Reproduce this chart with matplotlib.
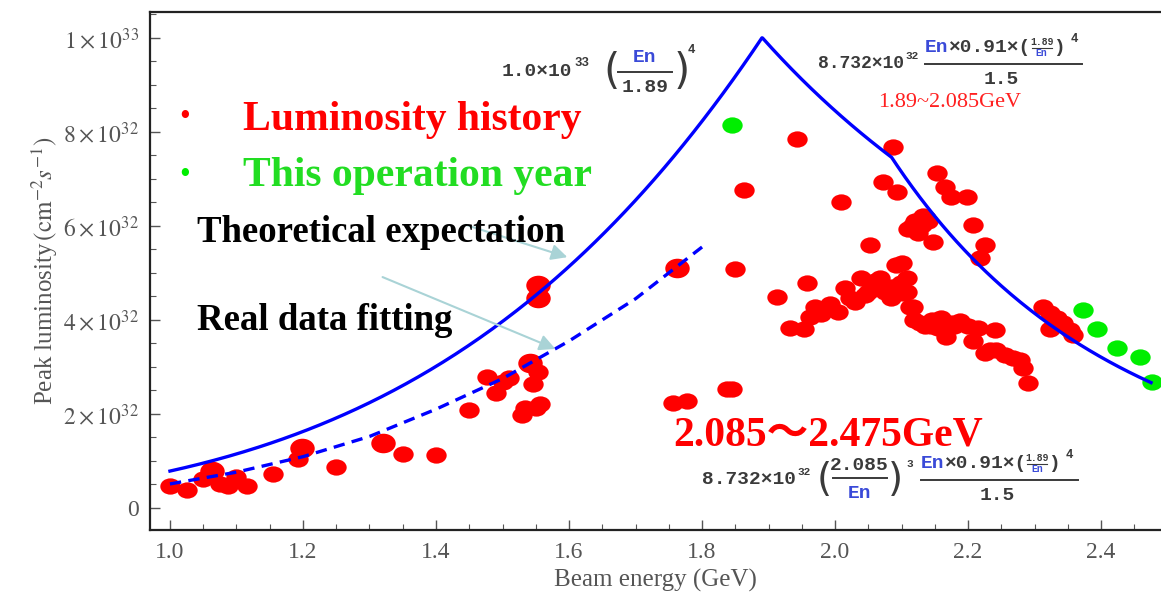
import numpy as np
import matplotlib
matplotlib.use('Agg')
import matplotlib.pyplot as plt
from matplotlib.path import Path
from matplotlib.transforms import Affine2D
from matplotlib.lines import Line2D
from matplotlib.ticker import MultipleLocator

# luminosity in units of 1e32 cm^-2 s^-1, beam energy in GeV
hist_E = [1.0, 1.026, 1.05, 1.075, 1.087, 1.10, 1.116, 1.155, 1.193, 1.25, 1.35, 1.40,
          1.45, 1.477, 1.49, 1.50, 1.51, 1.53, 1.534, 1.541, 1.546, 1.55, 1.553, 1.556,
          1.756, 1.777, 1.837, 1.845, 1.85, 1.863, 1.913, 1.943, 2.009, 2.053,
          1.932, 1.953, 1.958, 1.962, 1.970, 1.979, 1.992, 2.004, 2.015, 2.023, 2.030,
          2.039, 2.045, 2.050, 2.060, 2.068, 2.075, 2.084, 2.089, 2.100, 2.102, 2.113,
          2.064, 2.085, 2.099, 2.108, 2.108, 2.117, 2.118, 2.128, 2.135, 2.144, 2.146,
          2.155, 2.159, 2.167, 2.176, 2.179, 2.188, 2.200, 2.207, 2.215, 2.226, 2.233,
          2.242, 2.256, 2.267, 2.278, 2.282, 2.290, 2.240,
          2.087, 2.072, 2.093, 2.153, 2.165, 2.175, 2.198, 2.110, 2.120, 2.130, 2.137,
          2.147, 2.207, 2.226, 2.218, 2.100, 2.092, 2.115, 2.125, 2.140, 2.132,
          2.313, 2.323, 2.334, 2.343, 2.353, 2.358, 2.323]
hist_L = [0.47, 0.38, 0.62, 0.51, 0.47, 0.66, 0.47, 0.72, 1.04, 0.87, 1.15, 1.13,
          2.09, 2.79, 2.45, 2.68, 2.77, 1.98, 2.13, 3.09, 2.64, 2.13, 2.89, 2.21,
          2.23, 2.28, 2.53, 2.52, 5.09, 6.77, 4.49, 7.85, 6.51, 5.60,
          3.83, 3.81, 4.79, 4.06, 4.28, 4.13, 4.34, 4.17, 4.68, 4.47, 4.38,
          4.89, 4.53, 4.60, 4.83, 4.89, 4.60, 4.47, 4.55, 4.60, 4.57, 4.28,
          4.81, 4.70, 4.79, 4.89, 4.60, 4.28, 4.00, 3.94, 3.87, 3.87, 4.00,
          3.83, 4.04, 3.64, 3.94, 3.87, 3.98, 3.87, 3.55, 3.83, 3.30, 3.36,
          3.36, 3.26, 3.19, 3.15, 2.98, 2.66, 3.78,
          7.68, 6.94, 6.72, 7.13, 6.83, 6.62, 6.62, 5.94, 6.11, 6.02, 6.17,
          5.66, 6.02, 5.60, 5.32, 5.21, 5.17, 6.00, 5.85, 6.10, 6.22,
          4.28, 4.15, 4.04, 3.94, 3.79, 3.68, 3.81]
big_E = [1.063, 1.198, 1.32, 1.553, 1.553, 1.541, 1.762]
big_L = [0.79, 1.28, 1.38, 4.74, 4.47, 3.09, 5.11]
year_E = [1.845, 2.373, 2.394, 2.424, 2.459, 2.477]
year_L = [8.15, 4.21, 3.81, 3.40, 3.21, 2.68]

# dashed fit curve read along its length
fit_E = [1.0, 1.1, 1.2, 1.3, 1.4, 1.5, 1.6, 1.7, 1.8]
fit_L = [0.51, 0.76, 1.09, 1.52, 2.10, 2.75, 3.55, 4.45, 5.55]

# theoretical expectation (in units of 1e32)
L0, E0, E1, E_max = 10.0, 1.89, 2.085, 2.475

y_ticks = [0, 2, 4, 6, 8, 10]
y_labels = ['0', r'$2\times10^{32}$', r'$4\times10^{32}$', r'$6\times10^{32}$',
            r'$8\times10^{32}$', r'$1\times10^{33}$']
x_ticks = [1.0, 1.2, 1.4, 1.6, 1.8, 2.0, 2.2, 2.4]

W, H = 1161, 595
plt.rcParams['mathtext.fontset'] = 'stix'
plt.rcParams['font.family'] = ['Liberation Serif', 'DejaVu Serif']
GREY = '#555555'
FGREY = '#3a3a3a'
EN_BLUE = '#3a4ad8'
MONO = 'Liberation Mono'
FS = 14


def theory(E):
    E = np.asarray(E)
    rise = L0 * (E / E0) ** 4
    mid = 8.732 * E * 0.91 * (E0 / E) ** 4 / 1.5
    tail = 8.732 * (E1 / E) ** 3 * E * 0.91 * (E0 / E) ** 4 / 1.5
    return np.where(E <= E0, rise, np.where(E <= E1, mid, tail))


def px(x, y):
    return x / W, 1 - y / H


def ftext(x, y, s, size=FS, color=FGREY, family=MONO, weight='bold', ha='left'):
    t = fig.text(*px(x, y), s, fontsize=size, color=color, family=family,
                 weight=weight, ha=ha, va='center')
    return x + t.get_window_extent(renderer).width


def fline(x1, x2, y, lw=1.4):
    a, b = px(x1, y)
    c, _ = px(x2, y)
    fig.add_artist(Line2D([a, c], [b, b], transform=fig.transFigure, color=FGREY, lw=lw))


def paren(x, y, s, size=30):
    return ftext(x, y, s, size=size, weight='normal', family='DejaVu Sans')


def numerator(x, y):
    # En x 0.91 x (1.89/En)^4 written on one line
    x = ftext(x, y, 'En', color=EN_BLUE)
    x = ftext(x, y, '\u00d70.91\u00d7(')
    ftext(x + 11, y - 6, '1.89', size=7, ha='center')
    fline(x + 1, x + 21, y, lw=0.8)
    ftext(x + 11, y + 5, 'En', size=7, color=EN_BLUE, ha='center')
    x = ftext(x + 22, y, ')')
    return ftext(x + 6, y - 9, '4', size=9)


fig = plt.figure(figsize=(W / 100, H / 100), dpi=100)
renderer = fig.canvas.get_renderer()
ax = fig.add_axes([150 / W, 65 / H, 1 - 150 / W, 518 / H])

Et = np.linspace(1.0, E_max, 400)
Et = np.union1d(Et, [E0, E1])
ax.plot(Et, theory(Et), color='#0000ff', lw=2.4, zorder=3)
ax.plot(fit_E, fit_L, color='#0000ff', lw=2.4, ls=(0, (3.4, 2.2)), zorder=3)

oval = Path.unit_circle().transformed(Affine2D().scale(1.0, 0.8))
ax.scatter(hist_E, hist_L, marker=oval, s=215, color='#ff0000', lw=0, zorder=2)
ax.scatter(big_E, big_L, marker=oval, s=310, color='#ff0000', lw=0, zorder=2)
ax.scatter(year_E, year_L, marker=oval, s=215, color='#00ee00', lw=0, zorder=2)

ax.set_xlim(0.97, 2.49)
ax.set_ylim(-0.47, 10.55)
ax.set_xticks(x_ticks)
ax.set_xticklabels(['%.1f' % v for v in x_ticks])
ax.set_yticks(y_ticks)
ax.set_yticklabels(y_labels)
ax.xaxis.set_minor_locator(MultipleLocator(0.05))
ax.yaxis.set_minor_locator(MultipleLocator(0.5))
ax.tick_params(which='both', direction='in', colors=GREY, labelsize=17, top=False, right=False)
ax.tick_params(which='major', length=7, width=1)
ax.tick_params(which='minor', length=4, width=0.8)
ax.tick_params(axis='y', pad=8)
ax.tick_params(axis='x', pad=9)
for lab in ax.get_xticklabels() + ax.get_yticklabels():
    lab.set_color(GREY)
ax.spines['right'].set_visible(False)
for s in ['left', 'bottom', 'top']:
    ax.spines[s].set_color('#222222')
    ax.spines[s].set_linewidth(1.6)
ax.set_xlabel('Beam energy (GeV)', fontsize=18, color=GREY, labelpad=4)
ax.set_ylabel(r'Peak luminosity$\,(\mathrm{cm}^{-2}s^{-1})$', fontsize=18, color=GREY, labelpad=2)

# legend-like labels
fig.text(*px(185, 118), '\u2022', fontsize=22, color='#ff0000', ha='center', va='center')
fig.text(*px(185, 175), '\u2022', fontsize=22, color='#00ee00', ha='center', va='center')
fig.text(*px(243, 120), 'Luminosity history', fontsize=30, weight='bold',
         color='#ff0000', va='center')
fig.text(*px(243, 176), 'This operation year', fontsize=30, weight='bold',
         color='#22dd22', va='center')
fig.text(*px(197, 233), 'Theoretical expectation', fontsize=26.5, weight='bold',
         color='black', va='center')
fig.text(*px(197, 320), 'Real data fitting', fontsize=26.5, weight='bold',
         color='black', va='center')
fig.text(*px(673, 435), '2.085\uff5e2.475GeV', fontsize=30, weight='bold', color='#ff0000',
         va='center', family=['Liberation Serif', 'Noto Sans CJK SC'])
fig.text(*px(878, 102), '1.89~2.085GeV', fontsize=16, color='#ff2020', va='center')

arrow = dict(arrowstyle='-|>', color='#a9d3d6', lw=1.5, mutation_scale=24)
ax.annotate('', xy=px(570, 258), xytext=px(463, 224), xycoords='figure fraction',
            textcoords='figure fraction', arrowprops=arrow)
ax.annotate('', xy=px(558, 350), xytext=px(380, 276), xycoords='figure fraction',
            textcoords='figure fraction', arrowprops=arrow)

# rising branch formula
x = ftext(502, 72, '1.0\u00d710')
ftext(x + 2, 63, '33', size=9)
paren(603, 72, '(')
ftext(645, 57, 'En', color=EN_BLUE, ha='center')
fline(618, 672, 72)
ftext(645, 87, '1.89', ha='center')
paren(674, 72, ')')
ftext(688, 50, '4', size=9)

# 1.89-2.085 GeV formula
x = ftext(818, 63, '8.732\u00d710', size=13)
ftext(x + 1, 56, '32', size=8)
x_end = numerator(925, 48)
fline(925, x_end + 4, 64)
ftext((925 + x_end) / 2, 79, '1.5', ha='center')

# 2.085-2.475 GeV formula
x = ftext(702, 479, '8.732\u00d710')
x = ftext(x + 1, 472, '32', size=8)
x = paren(x + 6, 480, '(', size=28)
ftext(x + 28, 465, '2.085', ha='center')
fline(x + 2, x + 56, 478)
ftext(x + 28, 493, 'En', color=EN_BLUE, ha='center')
x = paren(x + 57, 480, ')', size=28)
ftext(x + 3, 464, '3', size=8)
x0 = x + 17
x_end = numerator(x0, 464)
fline(x0, x_end + 4, 480)
ftext((x0 + x_end) / 2, 495, '1.5', ha='center')

plt.savefig('out.png', dpi=100)
